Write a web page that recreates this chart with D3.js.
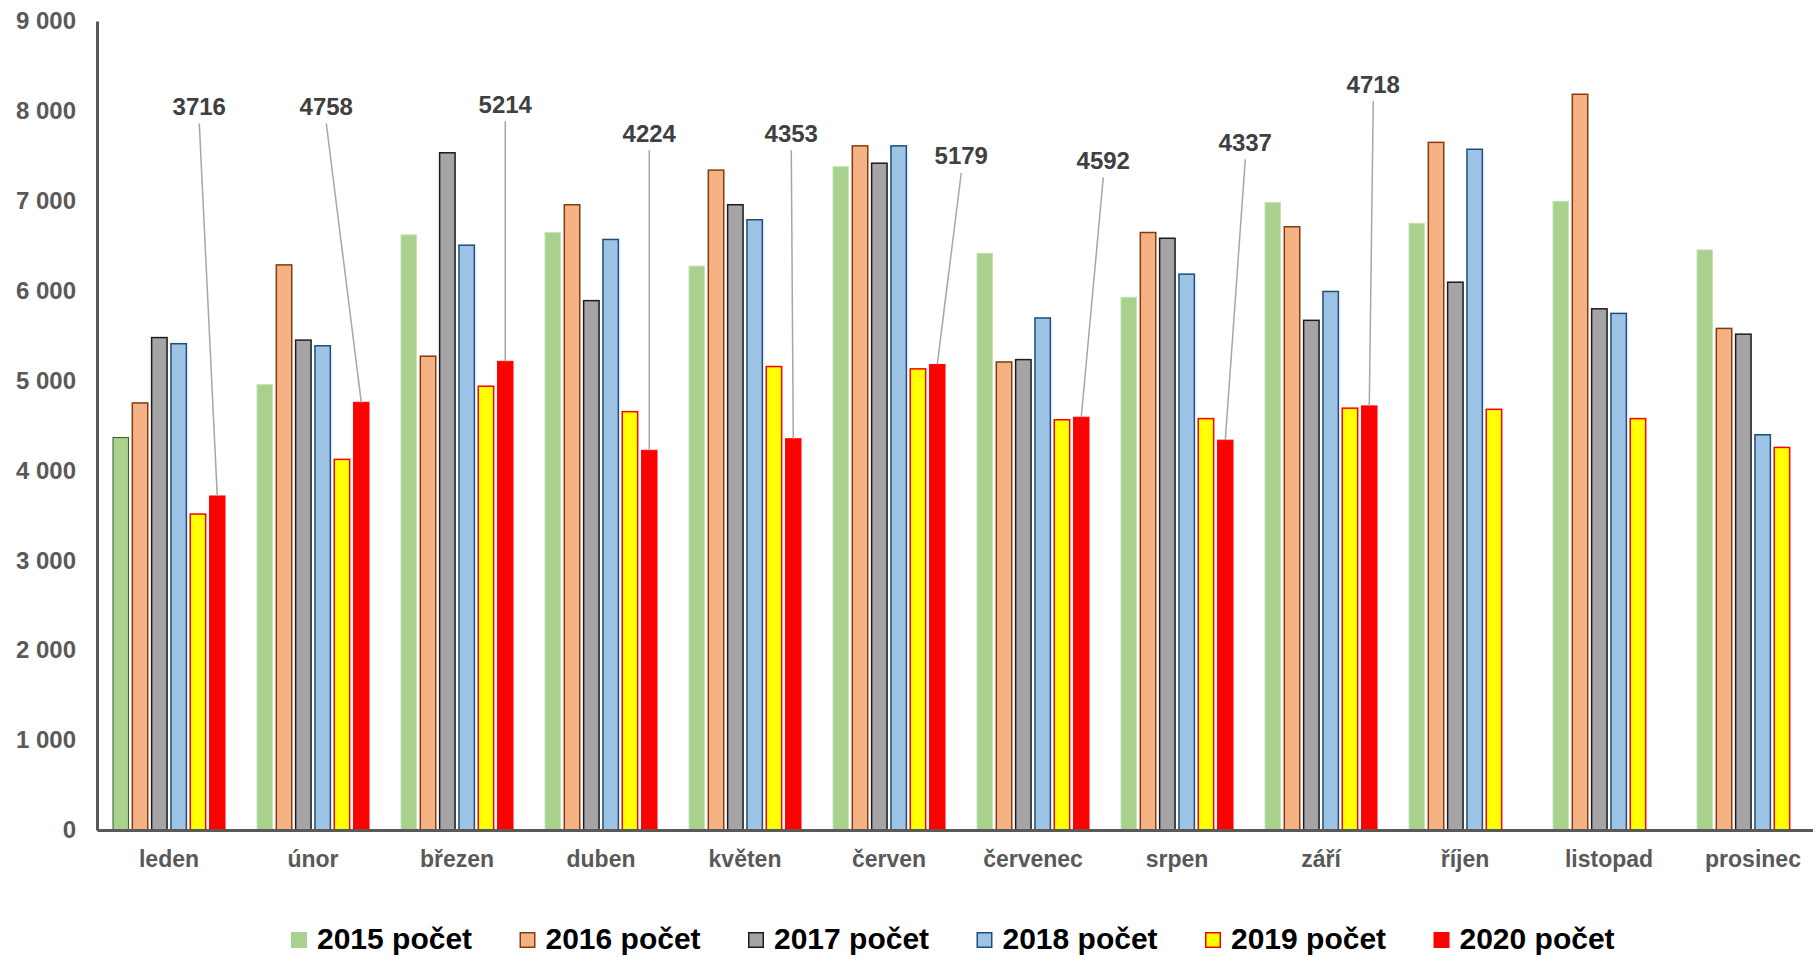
<!DOCTYPE html>
<html>
<head>
<meta charset="utf-8">
<script src="https://cdn.jsdelivr.net/npm/d3@7"></script>
<style>
  body { margin: 0; background: #fff; }
  svg { display: block; font-family: "Liberation Sans", Arial, sans-serif; }
  .tick text { font-weight: bold; fill: #595959; }
</style>
</head>
<body>
<svg></svg>
<script>
const width = 1813;
const height = 957;

// Data
const mesice = ["leden", "únor", "březen", "duben", "květen", "červen",
  "červenec", "srpen", "září", "říjen", "listopad", "prosinec"];
const serie = ["2015 počet", "2016 počet", "2017 počet", "2018 počet", "2019 počet", "2020 počet"];
const hodnoty2015 = [4366, 4955, 6621, 6647, 6274, 7380, 6416, 5927, 6981, 6750, 6994, 6454];
const hodnoty2016 = [4751, 6287, 5271, 6956, 7341, 7611, 5207, 6647, 6711, 7650, 8185, 5580];
const hodnoty2017 = [5478, 5450, 7534, 5889, 6956, 7418, 5233, 6583, 5670, 6094, 5798, 5516];
const hodnoty2018 = [5410, 5387, 6506, 6570, 6789, 7611, 5696, 6184, 5991, 7573, 5747, 4397];
const hodnoty2019 = [3515, 4123, 4937, 4654, 5156, 5130, 4564, 4577, 4693, 4680, 4577, 4256];
const hodnoty2020 = [3716, 4758, 5214, 4224, 4353, 5179, 4592, 4337, 4718];
const yTicks = [0, 1000, 2000, 3000, 4000, 5000, 6000, 7000, 8000, 9000];

const hodnoty = [hodnoty2015, hodnoty2016, hodnoty2017, hodnoty2018, hodnoty2019, hodnoty2020];

// styles per series
const vyplne = ["#a9d18e", "#f4b183", "#a5a5a5", "#9dc3e6", "#ffff00", "#ff0000"];
const obrysy = ["#c8e2b6", "#843c0c", "#1c1c1c", "#1f4e79", "#ff0000", "#ff0000"];

// position of the callout labels for 2020 (dx px from bar, level in axis units)
const popisky = [
  { dx: -18, level: 8050 }, { dx: -35, level: 8050 }, { dx: 0, level: 8075 },
  { dx: 0, level: 7750 }, { dx: -2, level: 7750 }, { dx: 24, level: 7500 },
  { dx: 22, level: 7450 }, { dx: 20, level: 7650 }, { dx: 4, level: 8300 }
];

const svg = d3.select("svg").attr("width", width).attr("height", height);

const x0 = d3.scaleBand()
  .domain(mesice)
  .range([97, 97 + 12 * 144])
  .padding(0);

const x1 = d3.scaleBand()
  .domain(serie)
  .range([16, 128])
  .paddingInner(0.2)
  .paddingOuter(0);

const y = d3.scaleLinear()
  .domain([0, 9000])
  .range([830, 21]);

const cz = d3.formatLocale({ decimal: ",", thousands: " ", grouping: [3], currency: ["", " Kč"] });

// bars
serie.forEach((s, si) => {
  svg.append("g")
    .selectAll("rect")
    .data(hodnoty[si])
    .join("rect")
    .attr("x", (d, i) => x0(mesice[i]) + x1(s))
    .attr("y", d => y(d))
    .attr("width", x1.bandwidth())
    .attr("height", d => y(0) - y(d))
    .attr("fill", vyplne[si])
    .attr("stroke", (d, i) => (si === 0 && i === 0) ? "#3b5a26" : obrysy[si])
    .attr("stroke-width", si === 0 || si === 5 ? 1 : 1.5);
});

// callouts for 2020
const s20 = serie[5];
const callouts = svg.append("g");
hodnoty2020.forEach((d, i) => {
  const bx = x0(mesice[i]) + x1(s20) + x1.bandwidth() / 2;
  const lx = bx + popisky[i].dx;
  const ly = y(popisky[i].level);
  callouts.append("line")
    .attr("x1", lx).attr("y1", ly + 17)
    .attr("x2", bx).attr("y2", y(d))
    .attr("stroke", "#a6a6a6")
    .attr("stroke-width", 1.5);
  callouts.append("text")
    .attr("x", lx).attr("y", ly)
    .attr("dy", "0.36em")
    .attr("text-anchor", "middle")
    .attr("font-size", 24)
    .attr("font-weight", "bold")
    .attr("fill", "#404040")
    .text(d);
});

// Y axis
const yAxis = svg.append("g")
  .attr("transform", "translate(97,0)")
  .call(d3.axisLeft(y).tickValues(yTicks).tickFormat(cz.format(",")).tickSize(0).tickPadding(21));
yAxis.selectAll("text").attr("font-size", 24);
yAxis.select(".domain").attr("stroke", "#595959").attr("stroke-width", 3);

// X axis
const xAxis = svg.append("g")
  .attr("transform", "translate(0,830)")
  .call(d3.axisBottom(x0).tickSize(0).tickPadding(21));
xAxis.selectAll("text").attr("font-size", 23);
xAxis.select(".domain").attr("stroke", "#595959").attr("stroke-width", 3);

// legend
const legend = svg.append("g").attr("transform", "translate(291,932)");
serie.forEach((s, si) => {
  const g = legend.append("g").attr("transform", `translate(${si * 228.5},0)`);
  const bez = si === 0 || si === 5;
  g.append("rect")
    .attr("x", bez ? 0 : 0.75)
    .attr("y", bez ? 0 : 0.75)
    .attr("width", bez ? 16 : 14.5)
    .attr("height", bez ? 16 : 14.5)
    .attr("fill", vyplne[si])
    .attr("stroke", bez ? "none" : obrysy[si])
    .attr("stroke-width", 1.5);
  g.append("text")
    .attr("x", 26)
    .attr("y", 17)
    .attr("font-size", 30)
    .attr("font-weight", "bold")
    .attr("fill", "#000")
    .text(s);
});
</script>
</body>
</html>
